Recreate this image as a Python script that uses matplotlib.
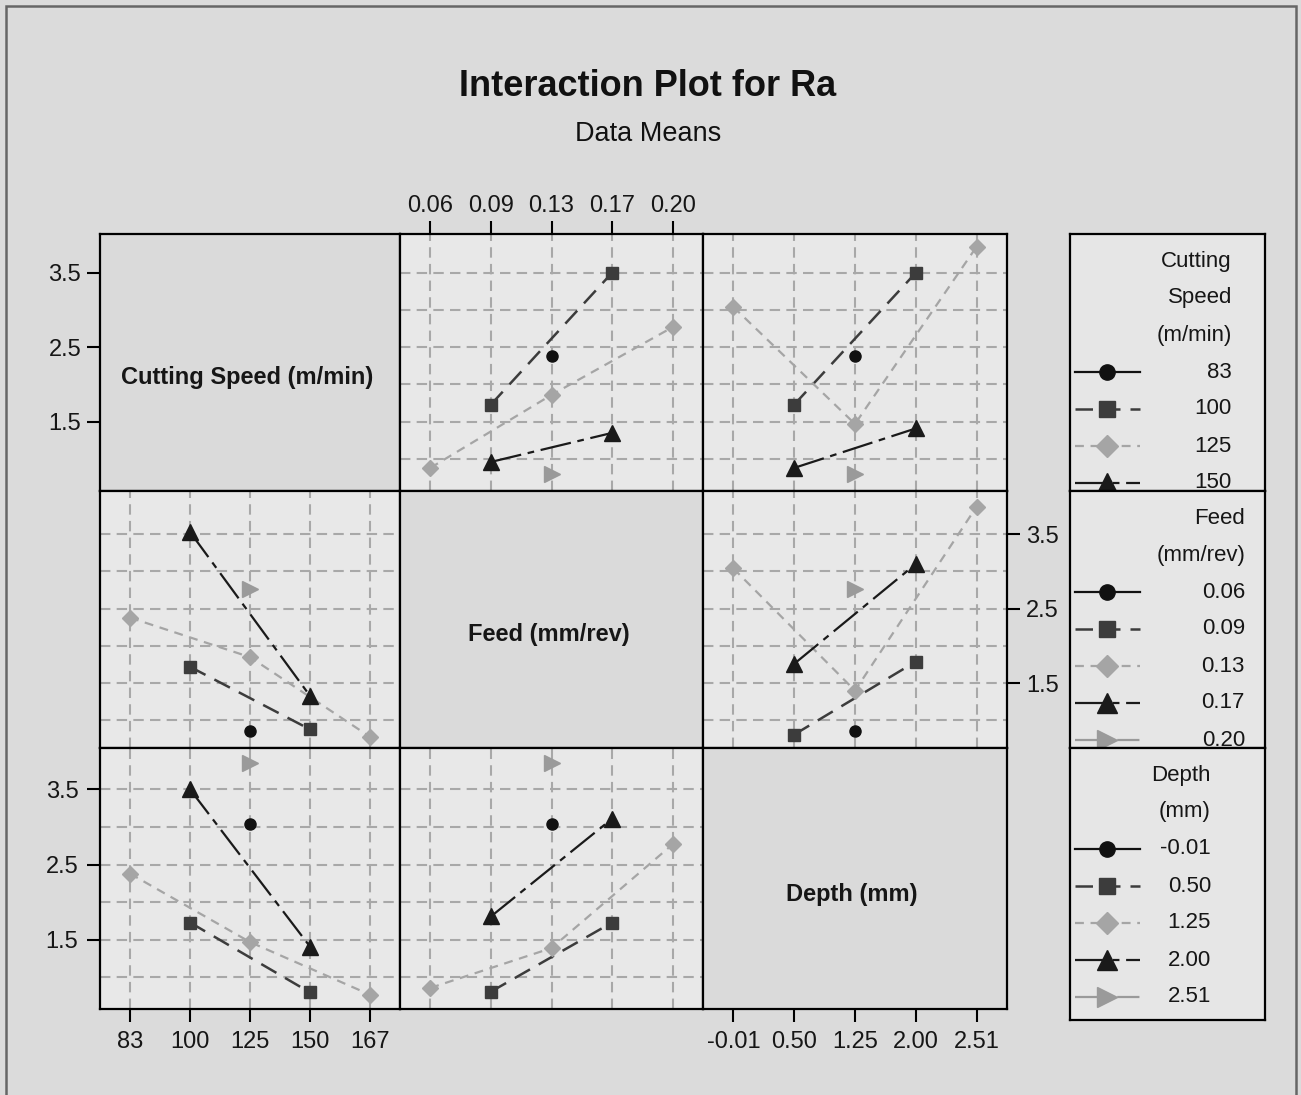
import numpy as np
import matplotlib
matplotlib.use("Agg")
import matplotlib.pyplot as plt
from matplotlib.patches import Rectangle

plt.rcParams['font.family'] = ['Liberation Sans', 'DejaVu Sans']

# factor levels
cs_levels = ['83', '100', '125', '150', '167']
feed_levels = ['0.06', '0.09', '0.13', '0.17', '0.20']
depth_levels = ['-0.01', '0.50', '1.25', '2.00', '2.51']

# Ra means, one row per level of the legend factor, one column per x level
# (None = no run for that combination)
ra_feed_by_cs = [
    [None, None, 2.38, None, None],
    [None, 1.73, None, 3.50, None],
    [0.88, None, 1.86, None, 2.77],
    [None, 0.96, None, 1.35, None],
    [None, None, 0.80, None, None],
]
ra_depth_by_cs = [
    [None, None, 2.38, None, None],
    [None, 1.73, None, 3.50, None],
    [3.04, None, 1.47, None, 3.85],
    [None, 0.88, None, 1.41, None],
    [None, None, 0.80, None, None],
]
ra_cs_by_feed = [
    [None, None, 0.86, None, None],
    [None, 1.72, None, 0.88, None],
    [2.38, None, 1.85, None, 0.78],
    [None, 3.53, None, 1.33, None],
    [None, None, 2.77, None, None],
]
ra_depth_by_feed = [
    [None, None, 0.86, None, None],
    [None, 0.81, None, 1.79, None],
    [3.04, None, 1.40, None, 3.87],
    [None, 1.76, None, 3.10, None],
    [None, None, 2.77, None, None],
]
ra_cs_by_depth = [
    [None, None, 3.04, None, None],
    [None, 1.73, None, 0.80, None],
    [2.38, None, 1.47, None, 0.77],
    [None, 3.50, None, 1.41, None],
    [None, None, 3.85, None, None],
]
ra_feed_by_depth = [
    [None, None, 3.04, None, None],
    [None, 0.81, None, 1.73, None],
    [0.86, None, 1.39, None, 2.77],
    [None, 1.81, None, 3.11, None],
    [None, None, 3.85, None, None],
]

styles = [
    dict(color='#111111', marker='o', ms=8, ls='-', lw=1.6),
    dict(color='#3c3c3c', marker='s', ms=8, ls=(0, (7, 4)), lw=1.8),
    dict(color='#a5a5a5', marker='D', ms=8, ls=(0, (4, 3)), lw=1.6),
    dict(color='#1a1a1a', marker='^', ms=11, ls=(0, (14, 3, 3, 3)), lw=1.6),
    dict(color='#9a9a9a', marker='>', ms=12, ls=(0, (10, 3, 3, 3)), lw=1.6),
]

W, H = 1301, 1095
BG = '#dbdbdb'
PANEL = '#e8e8e8'
GRID = '#a8a8a8'
TICK_FS = 17
TXT = '#161616'

fig = plt.figure(figsize=(W / 100, H / 100), dpi=100, facecolor=BG)


def rect(x0, y0, x1, y1):
    return [x0 / W, 1 - y1 / H, (x1 - x0) / W, (y1 - y0) / H]


cols = [(100, 400), (400, 703), (703, 1007)]
rows = [(234, 491), (491, 748), (748, 1009)]
row_ylims = [(0.57, 4.02), (0.63, 4.08), (0.58, 4.05)]
col_labels = [cs_levels, feed_levels, depth_levels]
names = ['Cutting Speed (m/min)', 'Feed (mm/rev)', 'Depth (mm)']

tables = {
    (0, 1): ra_feed_by_cs, (0, 2): ra_depth_by_cs,
    (1, 0): ra_cs_by_feed, (1, 2): ra_depth_by_feed,
    (2, 0): ra_cs_by_depth, (2, 1): ra_feed_by_depth,
}

x = np.arange(5)
for i, (y0, y1) in enumerate(rows):
    for j, (x0, x1) in enumerate(cols):
        ax = fig.add_axes(rect(x0, y0, x1, y1))
        ax.set_xlim(-0.5, 4.5)
        ax.set_ylim(*row_ylims[i])
        ax.set_xticks(x)
        ax.set_xticklabels(col_labels[j])
        ax.set_yticks([1.5, 2.5, 3.5])
        ax.set_yticklabels(['1.5', '2.5', '3.5'])
        ax.set_yticks([1.0, 2.0, 3.0], minor=True)
        ax.tick_params(which='minor', length=0)
        ax.tick_params(which='major', direction='out', length=9.5, width=1.5,
                       labelsize=TICK_FS, labelcolor=TXT, pad=4,
                       left=False, labelleft=False, right=False, labelright=False,
                       bottom=False, labelbottom=False, top=False, labeltop=False)
        for s in ax.spines.values():
            s.set_linewidth(1.6)
            s.set_color('black')

        # y labels: rows 0 and 2 on the left, row 1 on the right
        if j == 0 and i in (0, 2):
            ax.tick_params(left=True, labelleft=True)
        if j == 2 and i == 1:
            ax.tick_params(right=True, labelright=True)
        # x labels: columns 0 and 2 at the bottom, column 1 on top
        if i == 2 and j in (0, 2):
            ax.tick_params(bottom=True, labelbottom=True, pad=6)
        if i == 0 and j == 1:
            ax.tick_params(top=True, labeltop=True, pad=3)

        if i == j:
            ax.set_facecolor('#dadada')
            ax.text(0.49, 0.44, names[i], transform=ax.transAxes, ha='center',
                    va='center', fontsize=17, fontweight='bold', color=TXT)
            continue

        ax.set_facecolor(PANEL)
        ax.set_axisbelow(True)
        ax.grid(which='both', color=GRID, ls=(0, (5, 3)), lw=1.5)
        for row, st in zip(tables[(i, j)], styles):
            vals = np.array([np.nan if v is None else v for v in row], dtype=float)
            ok = ~np.isnan(vals)
            ax.plot(x[ok], vals[ok], mec=st['color'], mfc=st['color'], **st)

# legend boxes
legend_specs = [
    ((234, 491), ['Cutting', 'Speed', '(m/min)'], cs_levels, 1232),
    ((491, 748), ['Feed', '(mm/rev)'], feed_levels, 1245),
    ((748, 1020), ['Depth', '(mm)'], depth_levels, 1211),
]
LX0, LX1 = 1070, 1265
for (y0, y1), head, levels, xr in legend_specs:
    lax = fig.add_axes(rect(LX0, y0, LX1, y1))
    lax.set_xlim(0, LX1 - LX0)
    lax.set_ylim(y1 - y0, 0)
    lax.set_xticks([])
    lax.set_yticks([])
    lax.set_facecolor('#e6e6e6')
    for s in lax.spines.values():
        s.set_linewidth(1.6)
    yy = 27
    for h in head:
        lax.text(xr - LX0, yy, h, ha='right', va='center', fontsize=16,
                 color=TXT, clip_on=True)
        yy += 37
    for lev, st in zip(levels, styles):
        if yy > y1 - y0:
            break
        lax.plot([5, 70], [yy, yy], color=st['color'], ls=st['ls'], lw=st['lw'],
                 clip_on=True)
        lax.plot([37], [yy], color=st['color'], marker=st['marker'],
                 ms=st['ms'] + 3, mec=st['color'], ls='none', clip_on=True)
        lax.text(xr - LX0, yy, lev, ha='right', va='center', fontsize=16,
                 color=TXT, clip_on=True)
        yy += 37

fig.text(648 / W, 1 - 86 / H, 'Interaction Plot for Ra', ha='center',
         va='center', fontsize=26, fontweight='bold', color='#111111')
fig.text(648 / W, 1 - 134 / H, 'Data Means', ha='center', va='center',
         fontsize=19.5, color='#111111')

fig.patches.append(Rectangle((6 / W, -0.01), 1290 / W, 1.01 - 6 / H,
                             transform=fig.transFigure, fill=False,
                             edgecolor='#666666', lw=1.8))

fig.savefig('out.png', dpi=100, facecolor=BG)
